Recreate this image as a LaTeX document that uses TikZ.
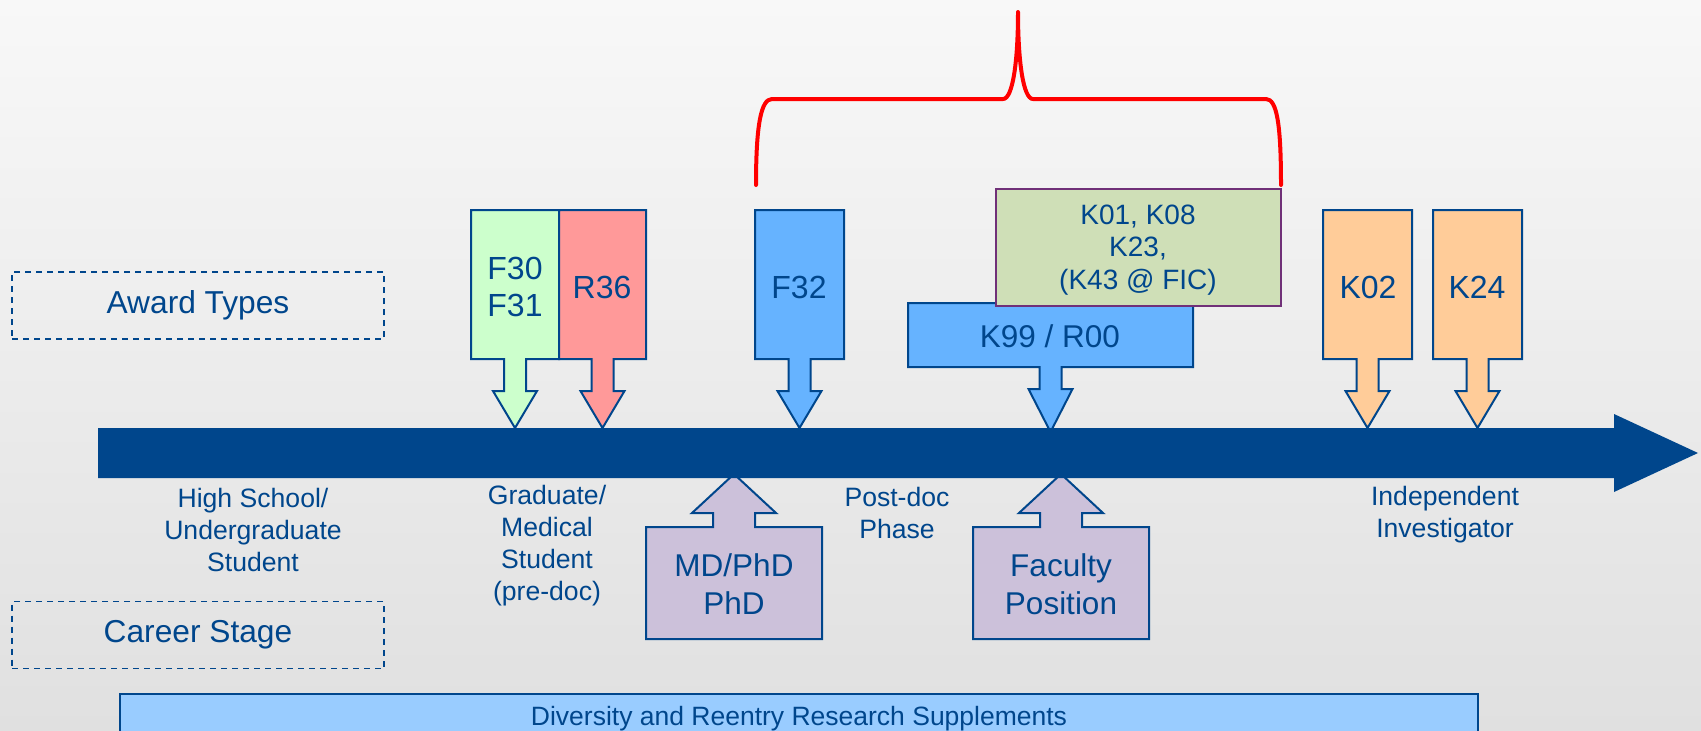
\documentclass[tikz,border=0pt]{standalone}
\usepackage{fontspec}
\setmainfont{Liberation Sans}
\definecolor{navy}{RGB}{0,70,140}
\definecolor{bgtop}{RGB}{248,248,248}
\definecolor{bgbot}{RGB}{224,224,224}
\definecolor{fgreen}{RGB}{204,255,204}
\definecolor{rpink}{RGB}{255,153,153}
\definecolor{fblue}{RGB}{102,179,255}
\definecolor{korange}{RGB}{255,204,153}
\definecolor{kgreen}{RGB}{207,223,183}
\definecolor{kpurple}{RGB}{112,48,120}
\definecolor{lav}{RGB}{204,193,218}
\definecolor{divblue}{RGB}{153,204,255}

% down-pointing callout: fill, left, right, top, bottom, shoulder y, tip y
\newcommand{\calloutdown}[7]{%
  \pgfmathsetmacro\callx{(#2+#3)/2}%
  \draw[callout, fill=#1] (#2,#4) -- (#3,#4) -- (#3,#5) -- (\callx+11,#5)
    -- (\callx+11,#6) -- (\callx+22,#6) -- (\callx,#7) -- (\callx-22,#6)
    -- (\callx-11,#6) -- (\callx-11,#5) -- (#2,#5) -- cycle;}
% up-pointing callout: fill, left, right, top, bottom, shoulder y, tip y
\newcommand{\calloutup}[7]{%
  \pgfmathsetmacro\callx{(#2+#3)/2}%
  \draw[callout, fill=#1] (#2,#4) -- (\callx-21,#4) -- (\callx-21,#6)
    -- (\callx-42,#6) -- (\callx,#7) -- (\callx+42,#6) -- (\callx+21,#6)
    -- (\callx+21,#4) -- (#3,#4) -- (#3,#5) -- (#2,#5) -- cycle;}

\begin{document}
\begin{tikzpicture}[x=1pt,y=-1pt,
  callout/.style={draw=navy, line width=2pt, line join=miter},
  bigtext/.style={text=navy, font=\fontsize{32}{37}\selectfont, align=center, inner sep=0pt},
  midtext/.style={text=navy, font=\fontsize{31.5}{38}\selectfont, align=center, inner sep=0pt},
  ktext/.style={text=navy, font=\fontsize{28}{32.5}\selectfont, align=center, inner sep=0pt},
  stagetext/.style={text=navy, font=\fontsize{26.6}{32}\selectfont, align=center, inner sep=0pt},
  dashbox/.style={draw=navy, dashed, dash pattern=on 6pt off 5pt, line width=1.8pt,
    text=navy, font=\fontsize{31.7}{37}\selectfont, minimum width=372pt, minimum height=67pt, inner sep=0pt},
  brace/.style={draw=red, line width=4pt, line cap=round, line join=round}
]
\clip (0,0) rectangle (1701,731);
\shade[top color=bgtop, bottom color=bgbot] (0,0) rectangle (1701,731);

% red brace over the K awards
\draw[brace] (756,185) .. controls (756,125) and (761,99) .. (772,99) -- (1003,99)
  .. controls (1013,99) and (1018,60) .. (1018,12)
  .. controls (1018,60) and (1023,99) .. (1033,99) -- (1266,99)
  .. controls (1277,99) and (1281,125) .. (1281,185);

% award callouts above the timeline
\calloutdown{fgreen}{471}{559}{210}{359}{391}{428}
\calloutdown{rpink}{559}{646}{210}{359}{391}{428}
\calloutdown{fblue}{755}{844}{210}{359}{391}{428}
\calloutdown{fblue}{908}{1193}{303}{367}{389}{432}
\calloutdown{korange}{1323}{1412}{210}{359}{391}{428}
\calloutdown{korange}{1433}{1522}{210}{359}{391}{428}
\draw[draw=kpurple, fill=kgreen, line width=2pt] (996,189) rectangle (1281,306);

% career milestones below the timeline
\calloutup{lav}{646}{822}{527}{639}{513}{474}
\calloutup{lav}{973}{1149}{527}{639}{513}{474}

% timeline arrow
\fill[navy] (98,428) -- (1614,428) -- (1614,414) -- (1698,453) -- (1614,492)
  -- (1614,478) -- (98,478) -- cycle;

% supplements bar
\draw[draw=navy, fill=divblue, line width=1.5pt] (120,694) rectangle (1478,745);

% labels
\node[bigtext] (f30) at (515,287) {F30\\F31};
\node[bigtext] (r36) at (602,287) {R36};
\node[bigtext] (f32) at (799,287) {F32};
\node[bigtext] (k02) at (1368,287) {K02};
\node[bigtext] (k24) at (1477,287) {K24};
\node[midtext] (k99) at (1050,336) {K99 / R00};
\node[ktext] (kgrp) at (1138,250) {K01, K08\\K23,\\(K43 @ FIC)};
\node[midtext] (mdphd) at (734,584) {MD/PhD\\PhD};
\node[midtext] (faculty) at (1061,584) {Faculty\\Position};

\node[stagetext] (hs) at (253,530) {High School/\\Undergraduate\\Student};
\node[stagetext] (grad) at (547,546) {Graduate/\\Medical\\Student\\(pre-doc)};
\node[stagetext] (postdoc) at (897,513) {Post-doc\\Phase};
\node[stagetext] (indep) at (1445,515) {Independent\\Investigator};

\node[dashbox] (award) at (198,305.5) {Award Types};
\node[dashbox] (career) at (198,635) {Career Stage};

\node[text=navy, font=\fontsize{26.5}{30}\selectfont, inner sep=0pt] (div) at (799,719) {Diversity and Reentry Research Supplements};
\end{tikzpicture}
\end{document}
